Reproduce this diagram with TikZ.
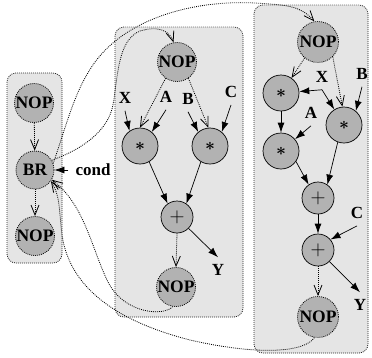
\documentclass[tikz,border=0pt]{standalone}
\usepackage{fontspec}
\setmainfont{Liberation Serif}
\usetikzlibrary{arrows.meta}

\begin{document}
\begin{tikzpicture}[x=1pt,y=-1pt,
  dots/.style={dash pattern=on 0.9pt off 1.1pt},
  block/.style={draw=black!85,dots,line width=0.8pt,fill=gray!20,rounded corners=9pt},
  op/.style={circle,draw,fill=gray!60,inner sep=0pt,minimum size=36pt,line width=0.7pt},
  nop/.style={op,dots,line width=0.8pt,minimum size=39pt,font=\fontsize{17.5}{17.5}\selectfont\bfseries},
  mul/.style={op,font=\fontsize{19}{19}\selectfont\boldmath},
  add/.style={op,minimum size=32pt,font=\fontsize{21}{21}\selectfont},
  lbl/.style={inner sep=7pt,font=\fontsize{17}{17}\selectfont\bfseries},
  dep/.style={line width=0.7pt,-{Latex[length=10pt,width=7pt]}},
  seq/.style={line width=0.8pt,dots,-{Straight Barb[length=10pt,width=8pt,line width=0.8pt]}}]
\useasboundingbox (0,0) rectangle (372,357);

\draw[block] (7,73) rectangle (62,263);
\draw[block] (115,27) rectangle (243,317);
\draw[block] (254,5) rectangle (368,353);

\node[nop] (nopL1) at (34,103) {NOP};
\node[nop,minimum size=38pt] (br) at (35,170) {BR};
\node[nop] (nopL2) at (35,236) {NOP};
\node[lbl] (cond) at (93,170) {cond};

\node[nop] (nopM1) at (177,62) {NOP};
\node[mul] (mulM1) at (140,146) {$\ast$};
\node[mul] (mulM2) at (210,146) {$\ast$};
\node[add] (addM) at (177,217) {$+$};
\node[nop] (nopM2) at (176,287) {NOP};
\node[lbl] (xM) at (125,98) {X};
\node[lbl] (aM) at (166,97) {A};
\node[lbl] (bM) at (188,99) {B};
\node[lbl] (cM) at (231,92) {C};
\node[lbl] (yM) at (218,270) {Y};

\node[nop,minimum size=41pt] (nopR1) at (318,42) {NOP};
\node[mul] (mulR1) at (281,93) {$\ast$};
\node[mul] (mulR2) at (344,125) {$\ast$};
\node[mul] (mulR3) at (281,151) {$\ast$};
\node[add] (addR1) at (318,198) {$+$};
\node[add] (addR2) at (318,250) {$+$};
\node[nop,minimum size=41pt] (nopR2) at (318,317) {NOP};
\node[lbl] (xR) at (322,77) {X};
\node[lbl] (aR) at (311,113) {A};
\node[lbl] (bR) at (362,74) {B};
\node[lbl] (cR) at (357,213) {C};
\node[lbl] (yR) at (360,305) {Y};

\draw[seq] (nopL1) -- (br);
\draw[seq] (br) -- (nopL2);
\draw[dep] (cond.west) -- (br.east);

\draw[seq] (nopM1.235) -- (mulM1.north);
\draw[seq] (nopM1.-55) -- (mulM2.95);
\draw[dep] (xM.south) -- (mulM1.125);
\draw[dep] (aM.south) -- (mulM1.50);
\draw[dep] (bM.south) -- (mulM2.130);
\draw[dep] (cM.south) -- (mulM2.50);
\draw[dep] (mulM1.-60) -- (addM.125);
\draw[dep] (mulM2.-120) -- (addM.55);
\draw[dep] (addM) -- (yM.north);
\draw[seq] (addM.south) -- (nopM2.north);

\draw[seq] (nopR1.-130) -- (mulR1.55);
\draw[seq] (nopR1.-45) -- (mulR2.95);
\draw[dep] (xR.south) -- (mulR1);
\draw[dep] (xR.south) -- (mulR2);
\draw[dep] (bR.south) -- (mulR2.50);
\draw[dep] (mulR1) -- (mulR3);
\draw[dep] (aR.south) -- (mulR3.40);
\draw[dep] (mulR3.-35) -- (addR1.125);
\draw[dep] (mulR2.-110) -- (addR1.55);
\draw[dep] (addR1) -- (addR2);
\draw[dep] (cR.south) -- (addR2.40);
\draw[dep] (addR2) -- (yR.north);
\draw[seq] (addR2.south) -- (nopR2.north);

\draw[seq] (br.30) .. controls (85,148) and (108,130) .. (113,105)
  .. controls (118,75) and (118,40) .. (140,31)
  .. controls (160,25) and (170,32) .. (nopM1.100);
\draw[seq] (br.20) .. controls (68,120) and (75,90) .. (95,62)
  .. controls (130,15) and (200,0) .. (255,3)
  .. controls (285,5) and (300,5) .. (nopR1.100);
\draw[seq] (nopM2.260) .. controls (165,316) and (125,315) .. (108,282)
  .. controls (92,250) and (85,205) .. (br.-30);
\draw[seq] (nopR2.260) .. controls (305,352) and (260,356) .. (190,340)
  .. controls (120,322) and (70,290) .. (62,235)
  .. controls (59,210) and (60,195) .. (br.-35);
\end{tikzpicture}
\end{document}
